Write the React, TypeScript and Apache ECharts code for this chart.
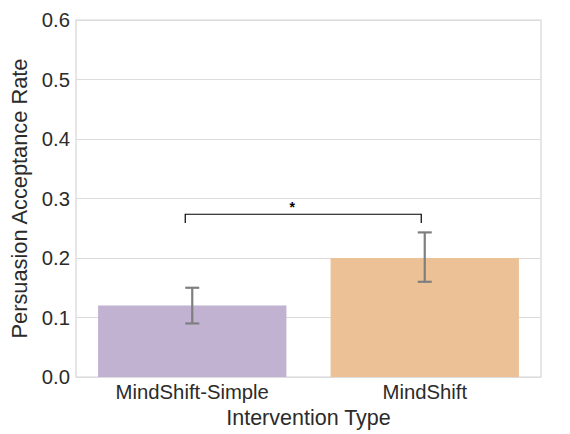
import React, { useEffect, useRef } from "react";
import * as echarts from "echarts";

const categories = ["MindShift-Simple", "MindShift"];
const rates = [0.12, 0.2];
const ciLow = [0.09, 0.16];
const ciHigh = [0.15, 0.243];
const barColors = ["#c0b2d0", "#ecc196"];
const yTicks = { min: 0, max: 0.6, interval: 0.1 };
const bracket = { from: 0, to: 1, bottom: 0.259, top: 0.2735, label: "*" };

const FONT = "'Liberation Sans', Arial, Helvetica, sans-serif";

export default function App() {
  const ref = useRef<HTMLDivElement>(null);
  useEffect(() => {
    if (!ref.current) return;
    const chart = echarts.init(ref.current, null, { renderer: "svg" });
    chart.setOption({
      animation: false,
      backgroundColor: "#ffffff",
      grid: {
        left: 76,
        right: 29,
        top: 20,
        bottom: 54,
        show: true,
        borderColor: "#d6d6d6",
        borderWidth: 1.2,
        backgroundColor: "transparent",
      },
      xAxis: {
        type: "category",
        data: categories,
        name: "Intervention Type",
        nameLocation: "middle",
        nameGap: 30,
        nameTextStyle: { fontSize: 21.5, color: "#2b2b2b", fontFamily: FONT },
        axisLine: { show: false },
        axisTick: { show: false },
        axisLabel: { fontSize: 20.3, color: "#2b2b2b", fontFamily: FONT, margin: 5 },
      },
      yAxis: {
        type: "value",
        min: yTicks.min,
        max: yTicks.max,
        interval: yTicks.interval,
        name: "Persuasion Acceptance Rate",
        nameLocation: "middle",
        nameGap: 44,
        nameTextStyle: { fontSize: 21.8, color: "#2b2b2b", fontFamily: FONT },
        axisLine: { show: false },
        axisTick: { show: false },
        axisLabel: {
          fontSize: 20.3,
          color: "#2b2b2b",
          fontFamily: FONT,
          margin: 6,
          formatter: (v: number) => v.toFixed(1),
        },
        splitLine: { show: true, lineStyle: { color: "#dcdcdc", width: 1 } },
      },
      series: [
        {
          type: "bar",
          barWidth: "81%",
          data: rates.map((v, i) => ({ value: v, itemStyle: { color: barColors[i] } })),
          z: 2,
        },
        {
          type: "custom",
          z: 5,
          data: categories.map((_, i) => [i, ciLow[i], ciHigh[i]]),
          encode: { x: 0, y: [1, 2] },
          renderItem: (params: any, api: any) => {
            const x = api.value(0);
            const lo = api.coord([x, api.value(1)]);
            const hi = api.coord([x, api.value(2)]);
            const cap = 7;
            const style = { stroke: "#7f7f7f", lineWidth: 2.2, fill: "none" };
            return {
              type: "group",
              children: [
                { type: "line", shape: { x1: hi[0], y1: hi[1], x2: lo[0], y2: lo[1] }, style },
                { type: "line", shape: { x1: hi[0] - cap, y1: hi[1], x2: hi[0] + cap, y2: hi[1] }, style },
                { type: "line", shape: { x1: lo[0] - cap, y1: lo[1], x2: lo[0] + cap, y2: lo[1] }, style },
              ],
            };
          },
        },
        {
          type: "custom",
          z: 6,
          data: [[bracket.from, bracket.to, bracket.bottom, bracket.top]],
          encode: { x: [0, 1], y: [2, 3] },
          renderItem: (params: any, api: any) => {
            const a = api.coord([api.value(0), api.value(3)]);
            const b = api.coord([api.value(1), api.value(3)]);
            const yb = api.coord([api.value(0), api.value(2)])[1];
            const xl = a[0] - 7;
            const xr = b[0] - 3.5;
            const style = { stroke: "#000000", lineWidth: 1.2, fill: "none" };
            return {
              type: "group",
              children: [
                {
                  type: "polyline",
                  shape: { points: [[xl, yb], [xl, a[1]], [xr, a[1]], [xr, yb]] },
                  style,
                },
                {
                  type: "text",
                  style: {
                    x: a[0] + 0.43 * (b[0] - a[0]),
                    y: a[1] - 7,
                    text: bracket.label,
                    fill: "#000000",
                    font: `bold 14px ${FONT}`,
                    align: "center",
                    verticalAlign: "middle",
                  },
                },
              ],
            };
          },
        },
      ],
    });
    return () => chart.dispose();
  }, []);
  return <div ref={ref} style={{ position: "fixed", left: 0, top: 0, width: 570, height: 434 }} />;
}
